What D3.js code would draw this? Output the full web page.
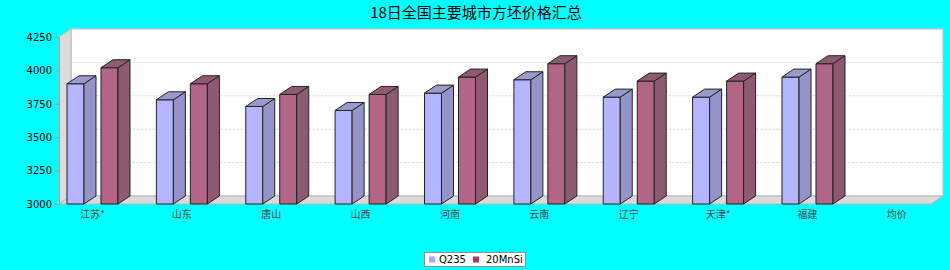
<!DOCTYPE html>
<html>
<head>
<meta charset="utf-8">
<script src="https://cdn.jsdelivr.net/npm/d3@7"></script>
<style>
  html, body { margin: 0; padding: 0; background: #00ffff; }
  svg { display: block; }
</style>
</head>
<body>
<svg id="chart" width="950" height="270"></svg>
<script>
// Billet prices by city (yuan/ton), two grades
const categories = ["江苏*", "山东", "唐山", "山西", "河南", "云南", "辽宁", "天津*", "福建", "均价"];
const seriesNames = ["Q235", "20MnSi"];
const q235 = [3900, 3780, 3730, 3700, 3830, 3930, 3800, 3800, 3950, null];
const mnsi = [4020, 3900, 3820, 3820, 3950, 4050, 3920, 3920, 4050, null];
const yTicks = [3000, 3250, 3500, 3750, 4000, 4250];
const titleText = "18日全国主要城市方坯价格汇总";

const seriesValues = [q235, mnsi];
const colors = {
  Q235:   { front: "#b4b4ff", side: "#9494c8", top: "#9a9acc", legend: "#a8a8ff" },
  "20MnSi": { front: "#b26587", side: "#8e5a72", top: "#8f5b74", legend: "#a33c6c" }
};

const svg = d3.select("#chart");
const W = 950, H = 270;

// 3D plot geometry: front plane and depth offset
const front = { left: 59, right: 931, top: 37, bottom: 204 };
const dx = 12, dy = 8;

const y = d3.scaleLinear().domain([3000, 4250]).range([front.bottom, front.top]);
const x = d3.scaleBand().domain(categories).range([47.8, 941.55]).padding(0);
const xInner = d3.scaleBand().domain(seriesNames).range([0, 51]).paddingInner(0.5);

// Title
svg.append("text")
  .attr("x", 476).attr("y", 18)
  .attr("text-anchor", "middle")
  .attr("font-family", "'Noto Sans CJK SC', 'DejaVu Sans', sans-serif")
  .attr("font-size", 15)
  .attr("fill", "#000")
  .text(titleText);

const g = svg.append("g");

// Back wall
g.append("rect")
  .attr("x", front.left + dx).attr("y", front.top - dy)
  .attr("width", front.right - front.left).attr("height", front.bottom - front.top)
  .attr("fill", "#ffffff").attr("stroke", "#c0c0c0").attr("stroke-width", 1);

// Left wall
g.append("path")
  .attr("d", d3.line()([
    [front.left, front.top], [front.left + dx, front.top - dy],
    [front.left + dx, front.bottom - dy], [front.left, front.bottom]
  ]) + "Z")
  .attr("fill", "#dcdcdc").attr("stroke", "#b8b8b8").attr("stroke-width", 1);

// Floor
g.append("path")
  .attr("d", d3.line()([
    [front.left, front.bottom], [front.left + dx, front.bottom - dy],
    [front.right + dx, front.bottom - dy], [front.right, front.bottom]
  ]) + "Z")
  .attr("fill", "#dadada").attr("stroke", "#b8b8b8").attr("stroke-width", 1);

// Grid lines: diagonal across the left wall, then along the back wall
g.append("g").selectAll("path")
  .data(yTicks.filter(t => t > 3000))
  .join("path")
  .attr("d", t => d3.line()([
    [front.left, y(t)], [front.left + dx, y(t) - dy], [front.right + dx, y(t) - dy]
  ]))
  .attr("fill", "none")
  .attr("stroke", "#d0d0d0")
  .attr("stroke-width", 1)
  .attr("stroke-dasharray", "2,2");

// Value axis
const yAxis = d3.axisLeft(y).tickValues(yTicks).tickSize(4).tickPadding(3).tickFormat(d3.format("d"));
const yAxisG = g.append("g")
  .attr("transform", `translate(${front.left},0)`)
  .call(yAxis);
yAxisG.select(".domain").attr("stroke", "#a0a0a0");
yAxisG.selectAll(".tick line").attr("stroke", "#b09090");
yAxisG.selectAll(".tick text")
  .attr("font-family", "'DejaVu Sans', sans-serif")
  .attr("font-size", 10)
  .attr("fill", "#000");

// Category axis labels
const xAxis = d3.axisBottom(x).tickSize(0).tickPadding(7);
const xAxisG = g.append("g")
  .attr("transform", `translate(0,${front.bottom})`)
  .call(xAxis);
xAxisG.select(".domain").remove();
xAxisG.selectAll(".tick text")
  .attr("font-family", "'Noto Sans CJK SC', 'DejaVu Sans', sans-serif")
  .attr("font-size", 10)
  .attr("fill", "#444");

// Bars
const bars = [];
categories.forEach((c, i) => {
  seriesNames.forEach((s, j) => {
    const v = seriesValues[j][i];
    if (v == null) return;
    bars.push({ c, s, v });
  });
});

const barG = g.append("g");
const bw = xInner.bandwidth();
bars.forEach(d => {
  const x0 = x(d.c) + x.bandwidth() / 2 - 25.5 + xInner(d.s);
  const x1 = x0 + bw;
  const yv = y(d.v);
  const yb = y(3000);
  const col = colors[d.s];
  const bg = barG.append("g").attr("stroke", "#222").attr("stroke-width", 1).attr("stroke-linejoin", "round");
  // front face
  bg.append("path")
    .attr("d", d3.line()([[x0, yv], [x1, yv], [x1, yb], [x0, yb]]) + "Z")
    .attr("fill", col.front);
  // side face
  bg.append("path")
    .attr("d", d3.line()([[x1, yv], [x1 + dx, yv - dy], [x1 + dx, yb - dy], [x1, yb]]) + "Z")
    .attr("fill", col.side);
  // top face
  bg.append("path")
    .attr("d", d3.line()([[x0, yv], [x0 + dx, yv - dy], [x1 + dx, yv - dy], [x1, yv]]) + "Z")
    .attr("fill", col.top);
});

// Legend
const legend = svg.append("g");
legend.append("rect")
  .attr("x", 424.5).attr("y", 252.5).attr("width", 101).attr("height", 14)
  .attr("fill", "#fff").attr("stroke", "#909090");
const legendItems = [
  { name: seriesNames[0], sx: 429, tx: 439 },
  { name: seriesNames[1], sx: 473, tx: 486 }
];
legendItems.forEach(it => {
  legend.append("rect")
    .attr("x", it.sx).attr("y", 256.5).attr("width", 6).attr("height", 6)
    .attr("fill", colors[it.name].legend);
  legend.append("text")
    .attr("x", it.tx).attr("y", 263)
    .attr("font-family", "'DejaVu Sans', sans-serif")
    .attr("font-size", 10)
    .attr("fill", "#000")
    .text(it.name);
});
</script>
</body>
</html>
